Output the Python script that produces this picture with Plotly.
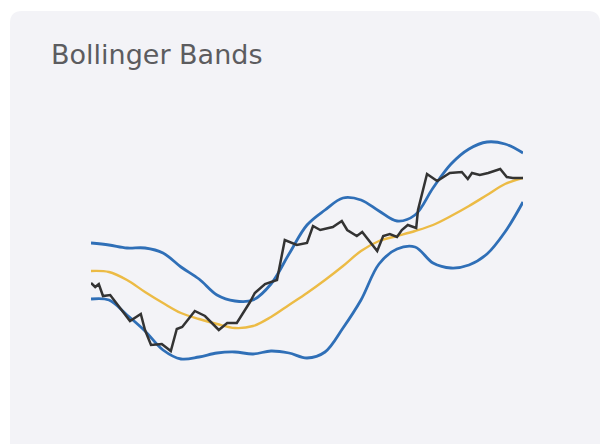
import plotly.graph_objects as go

# ---- data (price units, day index) ----
band_days = [0, 3, 6, 9, 12, 15, 18, 21, 24, 27, 30, 33, 36, 39, 42, 45, 48, 51, 54, 57, 60, 63, 66, 69, 72]
upper_band = [83.5, 82.5, 81, 81, 78.5, 71.5, 65.5, 57.5, 54.5, 55, 63, 78, 92.5, 100, 106, 105, 99.5, 94.5, 97.5, 111, 123, 130.5, 134, 133, 128.5]
middle_band = [69.5, 69, 65, 59, 53.5, 48.5, 45.5, 43, 41, 42, 46.5, 52.5, 58.5, 65, 72, 79.5, 84.5, 87, 89.5, 92.5, 97, 102, 107.5, 113, 116]
lower_band = [55.5, 55, 47.5, 39.5, 30, 25.5, 26.5, 28.5, 29, 28, 29.5, 28.5, 26, 29, 41, 55, 73, 80.5, 81.5, 73.5, 71, 72.5, 78, 89, 104]

price_days = [0, 0.7, 1.3, 2, 3.2, 6.5, 8.3, 9, 10, 11.8, 13.3, 14.3, 15.2, 17.3, 19, 19.8, 21.3, 22.7,
              24.3, 26.5, 27.3, 29, 31, 32.3, 34.3, 36, 37, 38.2, 40.3, 41.8, 42.7, 44.3, 45.2, 47.7,
              48.7, 49.8, 51, 51.8, 52.8, 54.2, 54.5, 56, 57.7, 59.8, 61.8, 62.8, 63.5, 64.8, 66.2,
              68.2, 69.3, 70.3, 72]
price = [63.5, 61.5, 63, 57, 57.5, 44.5, 48, 40, 32.5, 33, 29.5, 40.5, 41.5, 49.5, 47, 44.5, 40, 43.5,
         43.5, 54, 58.5, 63, 65, 85, 82.5, 83.5, 92, 90, 91.5, 94.5, 90, 87, 89, 79.5,
         87, 88, 86.5, 90, 92.5, 91, 100, 118, 114.5, 118.5, 119, 115.5, 118.5, 117.5, 118.5,
         120.5, 116.5, 116, 116]

title_text = "Bollinger Bands"

# ---- layout geometry (pixels) ----
W, H = 602, 444
L, R, T, B = 91, 79, 130, 74
pw, ph = W - L - R, H - T - B


def px(x):
    return (x - L) / pw


def py(y):
    return (H - B - y) / ph


BLUE = "#2f6fb7"
YELLOW = "#ecbb45"
BLACK = "#333333"

fig = go.Figure()
fig.add_trace(go.Scatter(x=band_days, y=upper_band, mode="lines",
                         line=dict(color=BLUE, width=2.8, shape="spline", smoothing=1.0)))
fig.add_trace(go.Scatter(x=band_days, y=lower_band, mode="lines",
                         line=dict(color=BLUE, width=2.8, shape="spline", smoothing=1.0)))
fig.add_trace(go.Scatter(x=band_days, y=middle_band, mode="lines",
                         line=dict(color=YELLOW, width=2.4, shape="spline", smoothing=1.0)))
fig.add_trace(go.Scatter(x=price_days, y=price, mode="lines",
                         line=dict(color=BLACK, width=2.5)))

# rounded card
x0, x1, y0, y1, r = 10, 600, 11, 470, 12
path = (f"M {px(x0 + r)} {py(y0)} L {px(x1 - r)} {py(y0)} "
        f"Q {px(x1)} {py(y0)} {px(x1)} {py(y0 + r)} "
        f"L {px(x1)} {py(y1)} L {px(x0)} {py(y1)} L {px(x0)} {py(y0 + r)} "
        f"Q {px(x0)} {py(y0)} {px(x0 + r)} {py(y0)} Z")

fig.update_layout(
    width=W, height=H,
    margin=dict(l=L, r=R, t=T, b=B),
    paper_bgcolor="white",
    plot_bgcolor="rgba(0,0,0,0)",
    showlegend=False,
    shapes=[dict(type="path", xref="paper", yref="paper", path=path,
                 fillcolor="#f3f3f7", line=dict(width=0), layer="below")],
    annotations=[dict(text=title_text, xref="paper", yref="paper",
                      x=px(49), y=py(54), xanchor="left", yanchor="middle",
                      showarrow=False,
                      font=dict(family="DejaVu Sans", size=27, color="#5c5c5f"))],
    xaxis=dict(range=[0, 72], visible=False, fixedrange=True),
    yaxis=dict(range=[20, 140], visible=False, fixedrange=True),
)

fig.write_html("out.html", config=dict(displayModeBar=False))
